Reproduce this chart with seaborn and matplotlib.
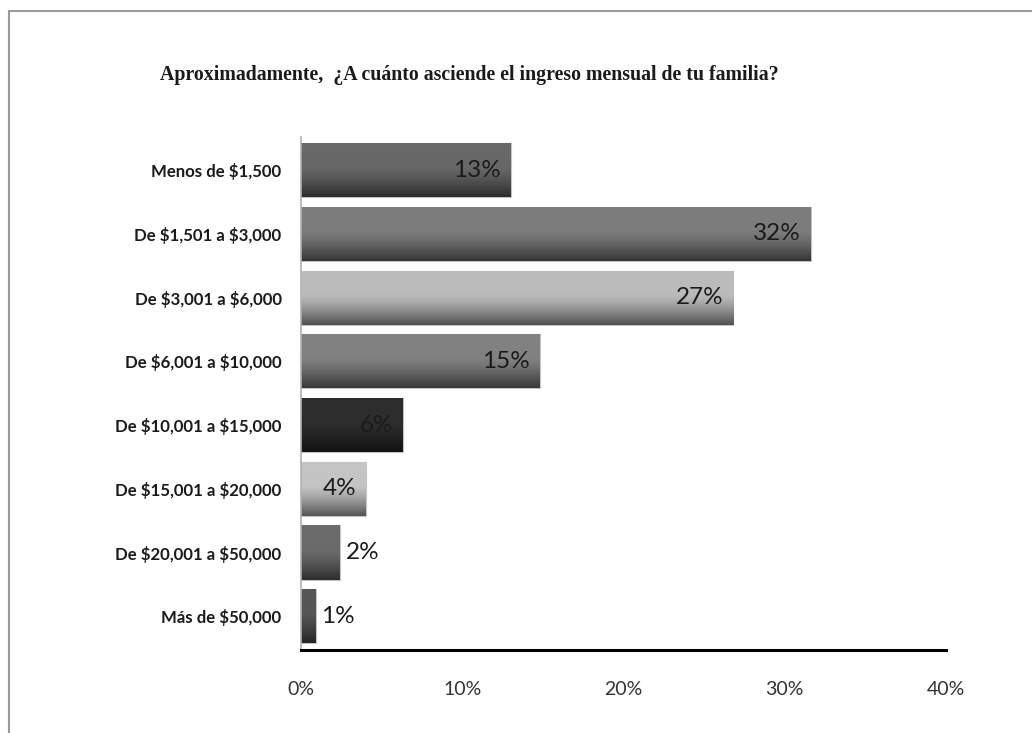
import numpy as np
import pandas as pd
import matplotlib
matplotlib.use("Agg")
import matplotlib.pyplot as plt
import matplotlib.colors as mcolors
from matplotlib.lines import Line2D
import seaborn as sns

# Monthly family income brackets and share of respondents (%)
categories = [
    "Menos de $1,500",
    "De $1,501 a $3,000",
    "De $3,001 a $6,000",
    "De $6,001 a $10,000",
    "De $10,001 a $15,000",
    "De $15,001 a $20,000",
    "De $20,001 a $50,000",
    "Más de $50,000",
]
shares = [13.0, 31.6, 26.8, 14.8, 6.3, 4.0, 2.4, 0.9]
bar_greys = ["#636363", "#777777", "#b4b4b4", "#7c7c7c", "#2a2a2a", "#bdbdbd", "#666666", "#525252"]
x_ticks = [0, 10, 20, 30, 40]
title = "Aproximadamente,  ¿A cuánto asciende el ingreso mensual de tu familia?"

df = pd.DataFrame({"rango": categories, "pct": shares})

sns.set_theme(style="white")
plt.rcParams["font.family"] = ["Lato", "DejaVu Sans"]
plt.rcParams["text.parse_math"] = False

fig = plt.figure(figsize=(10.32, 7.33), dpi=100)
ax = fig.add_axes([0.2917, 0.1132, 0.6250, 0.6999])

sns.barplot(data=df, x="pct", y="rango", hue="rango", palette=bar_greys,
            order=categories, legend=False, width=0.85, ax=ax,
            edgecolor="#c4c4c4", linewidth=0.8)

# Vertical shading on each bar: base tone at the top, darker towards the bottom
for patch, base in zip(ax.patches, bar_greys):
    x0, y0 = patch.get_x(), patch.get_y()
    w, h = patch.get_width(), patch.get_height()
    rgb = np.array(mcolors.to_rgb(base))
    t = np.linspace(0, 1, 64)[:, None]
    top = np.clip(rgb * 1.03 + 0.01, 0, 1)
    bottom = rgb * 0.45
    mix = np.clip((t - 0.45) / 0.55, 0, 1) ** 1.3
    col = (1 - mix) * (top * (1 - t * 0.3) + rgb * t * 0.3) + mix * bottom
    img = np.repeat(col[:, None, :], 2, axis=1)
    im = ax.imshow(img, extent=(x0, x0 + w, y0 + h, y0), aspect="auto",
                   interpolation="bilinear", zorder=patch.get_zorder() + 0.1)
    im.set_clip_path(patch)

ax.set_xlim(0, 40)
ax.set_ylim(7.53, -0.52)
ax.set_xticks(x_ticks)
ax.set_xticklabels([f"{v}%" for v in x_ticks], fontsize=14, color="#333333")
ax.tick_params(axis="x", length=0, pad=22)
ax.tick_params(axis="y", length=0, pad=14)
for lbl in ax.get_yticklabels():
    lbl.set_fontweight("bold")
    lbl.set_fontsize(12.1)
    lbl.set_color("#1a1a1a")
ax.set_xlabel("")
ax.set_ylabel("")

for side in ["top", "right"]:
    ax.spines[side].set_visible(False)
ax.spines["bottom"].set_color("black")
ax.spines["bottom"].set_linewidth(2.2)
ax.spines["left"].set_color("#b0b0b0")
ax.spines["left"].set_linewidth(1.2)

# Value labels: inside the bar end for wide bars, just outside for narrow ones
for i, v in enumerate(shares):
    txt = f"{v:.0f}%"
    if v >= 3.5:
        ax.text(v - 0.6, i, txt, ha="right", va="center", fontsize=17.5,
                color="#1a1a1a", zorder=5)
    else:
        ax.text(v + 0.35, i, txt, ha="left", va="center", fontsize=17.5,
                color="#1a1a1a", zorder=5)

fig.text(0.455, 0.898, title, ha="center", va="center", fontsize=14.3,
         fontweight="bold", family=["Liberation Serif", "DejaVu Serif"],
         color="#1a1a1a")

# Outer frame of the chart area
fig.add_artist(Line2D([9 / 1032, 1.0], [1 - 11 / 733, 1 - 11 / 733],
                      transform=fig.transFigure, color="#9a9a9a", linewidth=1.5))
fig.add_artist(Line2D([9 / 1032, 9 / 1032], [0.0, 1 - 11 / 733],
                      transform=fig.transFigure, color="#9a9a9a", linewidth=1.5))

fig.savefig("out.png", dpi=100, facecolor="white")
